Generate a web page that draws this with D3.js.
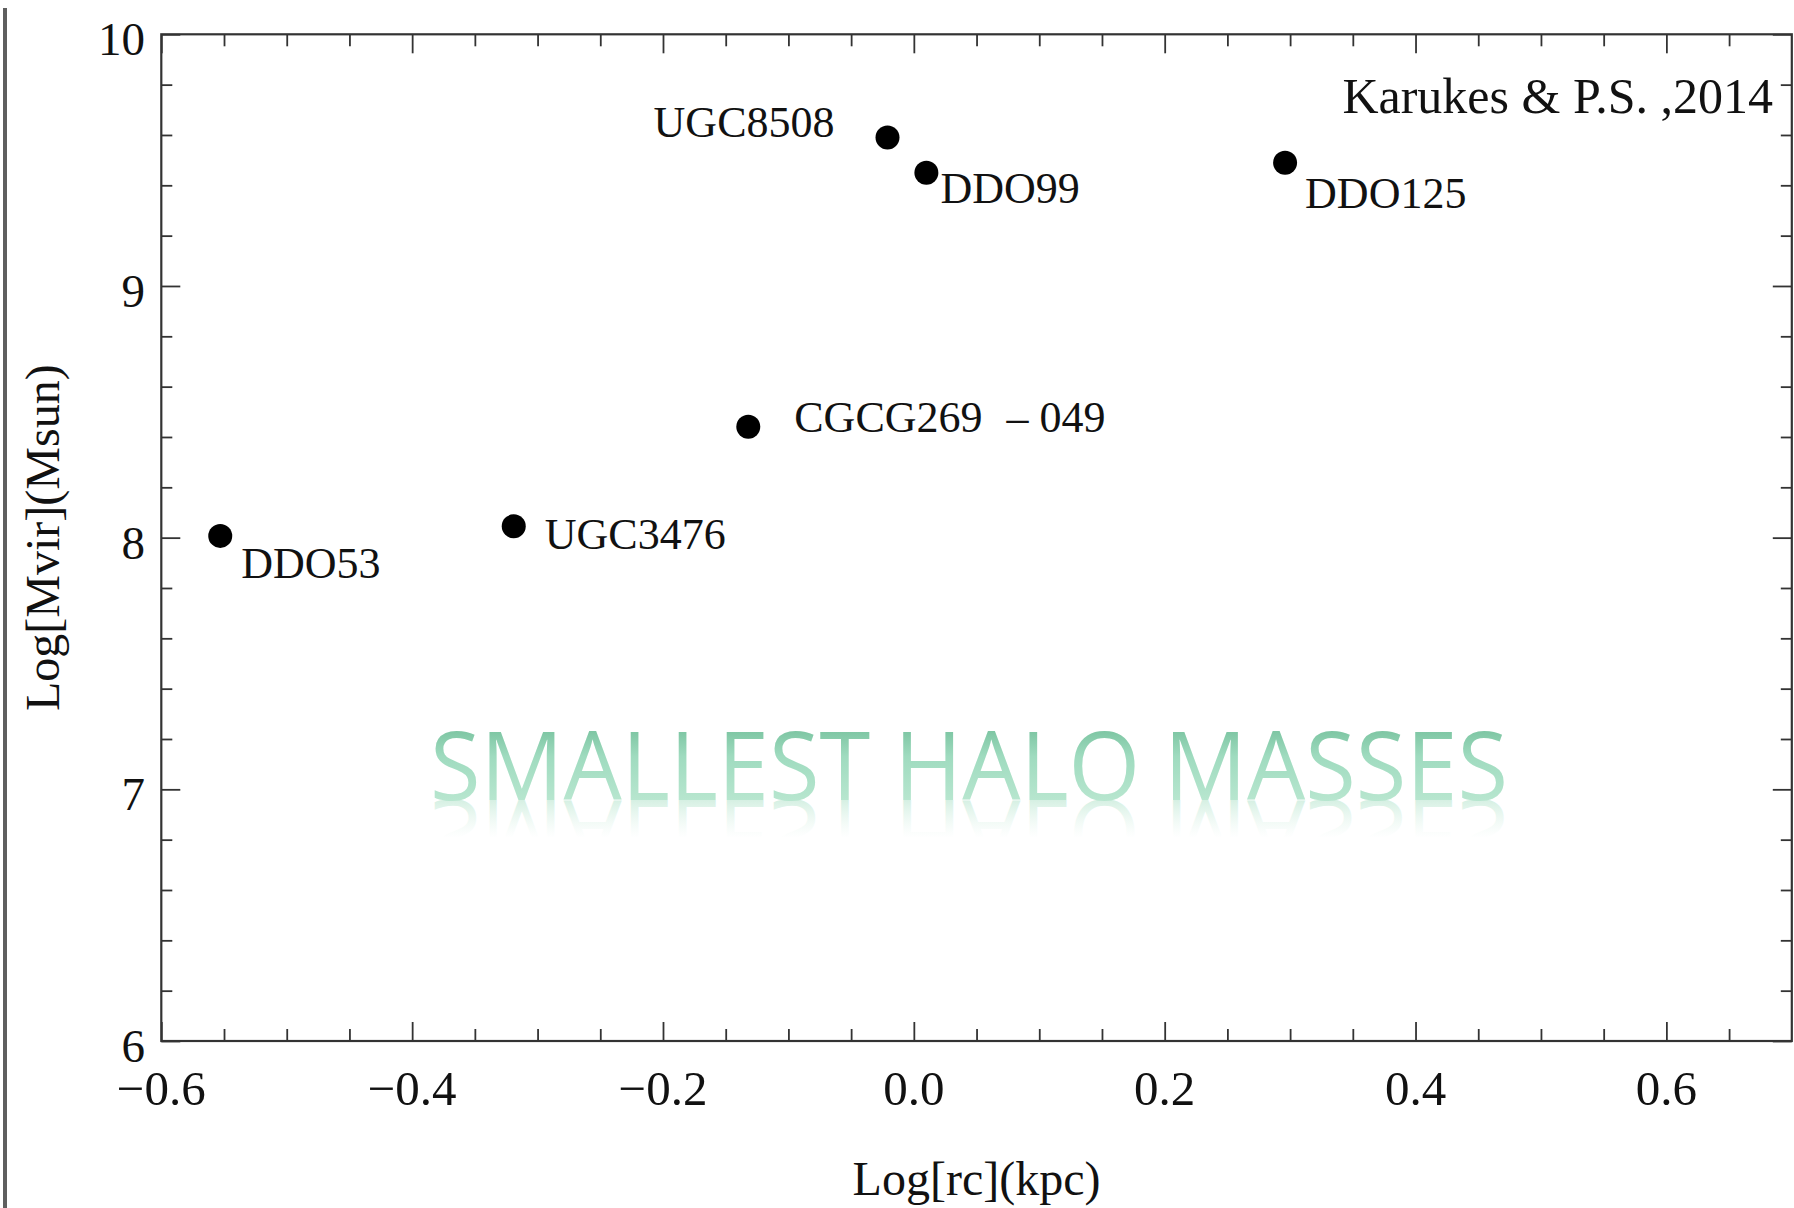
<!DOCTYPE html>
<html>
<head>
<meta charset="utf-8">
<script src="https://cdn.jsdelivr.net/npm/d3@7"></script>
<style>
  html, body { margin: 0; padding: 0; background: #ffffff; }
  svg { display: block; }
  .serif { font-family: "Liberation Serif", "Times New Roman", "DejaVu Serif", serif; fill: #111; }
</style>
</head>
<body>
<svg id="chart" width="1794" height="1208" xmlns:xlink="http://www.w3.org/1999/xlink"></svg>
<script>
// ---------------- data ----------------
const galaxies = ["DDO53", "UGC3476", "CGCG269", "UGC8508", "DDO99", "DDO125"];
const logRc    = [-0.553, -0.319, -0.132, -0.021, 0.010, 0.296];
const logMvir  = [8.007, 8.045, 8.441, 9.59, 9.45, 9.49];

const xMajorTicks = [-0.6, -0.4, -0.2, 0.0, 0.2, 0.4, 0.6];
const yMajorTicks = [6, 7, 8, 9, 10];
const xMinorTicks = d3.range(-12, 14).map(i => +(i * 0.05).toFixed(2)).filter(v => !xMajorTicks.includes(v));
const yMinorTicks = d3.range(30, 50).map(i => +(i * 0.2).toFixed(1)).filter(v => !yMajorTicks.includes(v));

const xTitle = "Log[rc](kpc)";
const yTitle = "Log[Mvir](Msun)";
const credit = "Karukes & P.S. ,2014";
const watermark = "SMALLEST HALO MASSES";

// ---------------- layout ----------------
const svg = d3.select("#chart");
const L = 161.3, R = 1791.8, T = 34.3, B = 1041;
const x = d3.scaleLinear().domain([-0.6, 0.7]).range([L, R]);
const y = d3.scaleLinear().domain([6, 10]).range([B, T]);

// label placement (pixel offsets from point)
const labelPlace = {
  "DDO53":   {dx: 21,  dy: 42,  anchor: "start"},
  "UGC3476": {dx: 31,  dy: 23,  anchor: "start"},
  "CGCG269": {dx: 46,  dy: 5,   anchor: "start"},
  "UGC8508": {dx: -53, dy: 0,   anchor: "end"},
  "DDO99":   {dx: 14,  dy: 30,  anchor: "start"},
  "DDO125":  {dx: 20,  dy: 45,  anchor: "start"}
};

// left grey bar
svg.append("rect").attr("x", 3).attr("y", 8).attr("width", 4).attr("height", 1200).attr("fill", "#5f5f5f");

// defs for watermark
const defs = svg.append("defs");
const g1 = defs.append("linearGradient").attr("id", "wmGrad")
  .attr("x1", 0).attr("y1", 0).attr("x2", 0).attr("y2", 1);
g1.append("stop").attr("offset", "0.12").attr("stop-color", "#68b891");
g1.append("stop").attr("offset", "0.45").attr("stop-color", "#9fdbbf");
g1.append("stop").attr("offset", "0.85").attr("stop-color", "#bce8d2");

const wmBase = 800, wmLeft = 430, wmWidth = 1078;
const g2 = defs.append("linearGradient").attr("id", "wmRefl")
  .attr("gradientUnits", "userSpaceOnUse")
  .attr("x1", 0).attr("y1", wmBase).attr("x2", 0).attr("y2", wmBase - 38);
g2.append("stop").attr("offset", "0").attr("stop-color", "#b3e3cb").attr("stop-opacity", 0.55);
g2.append("stop").attr("offset", "1").attr("stop-color", "#d5f0e3").attr("stop-opacity", 0);

const wmFont = "'Open Sans', 'Noto Sans', Lato, sans-serif";
// reflection source (not drawn directly)
defs.append("text").attr("id", "wmShape")
  .attr("x", wmLeft).attr("y", wmBase)
  .attr("font-family", wmFont).attr("font-size", 95)
  .attr("textLength", wmWidth).attr("lengthAdjust", "spacingAndGlyphs")
  .text(watermark);

// reflection
svg.append("use")
  .attr("href", "#wmShape").attr("xlink:href", "#wmShape")
  .attr("transform", `translate(0,${2 * wmBase}) scale(1,-1)`)
  .attr("fill", "url(#wmRefl)");

// main watermark
svg.append("text")
  .attr("x", wmLeft).attr("y", wmBase)
  .attr("font-family", wmFont).attr("font-size", 95)
  .attr("textLength", wmWidth).attr("lengthAdjust", "spacingAndGlyphs")
  .attr("fill", "url(#wmGrad)")
  .text(watermark);

// ---------------- axes ----------------
const axColor = "#333";
function styleAxis(g) {
  g.select(".domain").remove();
  g.selectAll("line").attr("stroke", axColor).attr("stroke-width", 1.8);
  g.selectAll("text").remove();
}
// bottom
svg.append("g").attr("transform", `translate(0,${B})`)
  .call(d3.axisBottom(x).tickValues(xMinorTicks).tickSize(-12)).call(styleAxis);
svg.append("g").attr("transform", `translate(0,${B})`)
  .call(d3.axisBottom(x).tickValues(xMajorTicks).tickSize(-19)).call(styleAxis);
// top
svg.append("g").attr("transform", `translate(0,${T})`)
  .call(d3.axisTop(x).tickValues(xMinorTicks).tickSize(-12)).call(styleAxis);
svg.append("g").attr("transform", `translate(0,${T})`)
  .call(d3.axisTop(x).tickValues(xMajorTicks).tickSize(-19)).call(styleAxis);
// left
svg.append("g").attr("transform", `translate(${L},0)`)
  .call(d3.axisLeft(y).tickValues(yMinorTicks).tickSize(-11)).call(styleAxis);
svg.append("g").attr("transform", `translate(${L},0)`)
  .call(d3.axisLeft(y).tickValues(yMajorTicks).tickSize(-19)).call(styleAxis);
// right
svg.append("g").attr("transform", `translate(${R},0)`)
  .call(d3.axisRight(y).tickValues(yMinorTicks).tickSize(-11)).call(styleAxis);
svg.append("g").attr("transform", `translate(${R},0)`)
  .call(d3.axisRight(y).tickValues(yMajorTicks).tickSize(-19)).call(styleAxis);

// frame
svg.append("rect").attr("x", L).attr("y", T).attr("width", R - L).attr("height", B - T)
  .attr("fill", "none").attr("stroke", axColor).attr("stroke-width", 2.2);

// tick labels
const fmtX = d3.format(".1f");
svg.append("g").selectAll("text").data(xMajorTicks).join("text")
  .attr("class", "serif").attr("x", d => x(d)).attr("y", 1105)
  .attr("text-anchor", "middle").attr("font-size", 49)
  .text(d => fmtX(d));
svg.append("g").selectAll("text").data(yMajorTicks).join("text")
  .attr("class", "serif").attr("x", 145).attr("y", d => y(d) + 21)
  .attr("text-anchor", "end").attr("font-size", 47)
  .text(d => d);

// axis titles
svg.append("text").attr("class", "serif")
  .attr("x", (L + R) / 2).attr("y", 1195).attr("text-anchor", "middle")
  .attr("font-size", 48).text(xTitle);
svg.append("text").attr("class", "serif")
  .attr("transform", `translate(59,${(T + B) / 2}) rotate(-90)`)
  .attr("text-anchor", "middle").attr("font-size", 48).text(yTitle);

// credit
svg.append("text").attr("class", "serif")
  .attr("x", 1773).attr("y", 113).attr("text-anchor", "end")
  .attr("font-size", 50).text(credit);

// ---------------- points ----------------
const pts = galaxies.map((n, i) => ({name: n, xv: logRc[i], yv: logMvir[i]}));
svg.append("g").selectAll("circle").data(pts).join("circle")
  .attr("cx", d => x(d.xv)).attr("cy", d => y(d.yv)).attr("r", 12).attr("fill", "#000");

const lab = svg.append("g").selectAll("text").data(pts).join("text")
  .attr("class", "serif").attr("font-size", 44)
  .attr("x", d => x(d.xv) + labelPlace[d.name].dx)
  .attr("y", d => y(d.yv) + labelPlace[d.name].dy)
  .attr("text-anchor", d => labelPlace[d.name].anchor)
  .text(d => d.name);
// suffix of CGCG269 − 049 label
lab.filter(d => d.name === "CGCG269").append("tspan").attr("dx", 24).text("– 049");
</script>
</body>
</html>
